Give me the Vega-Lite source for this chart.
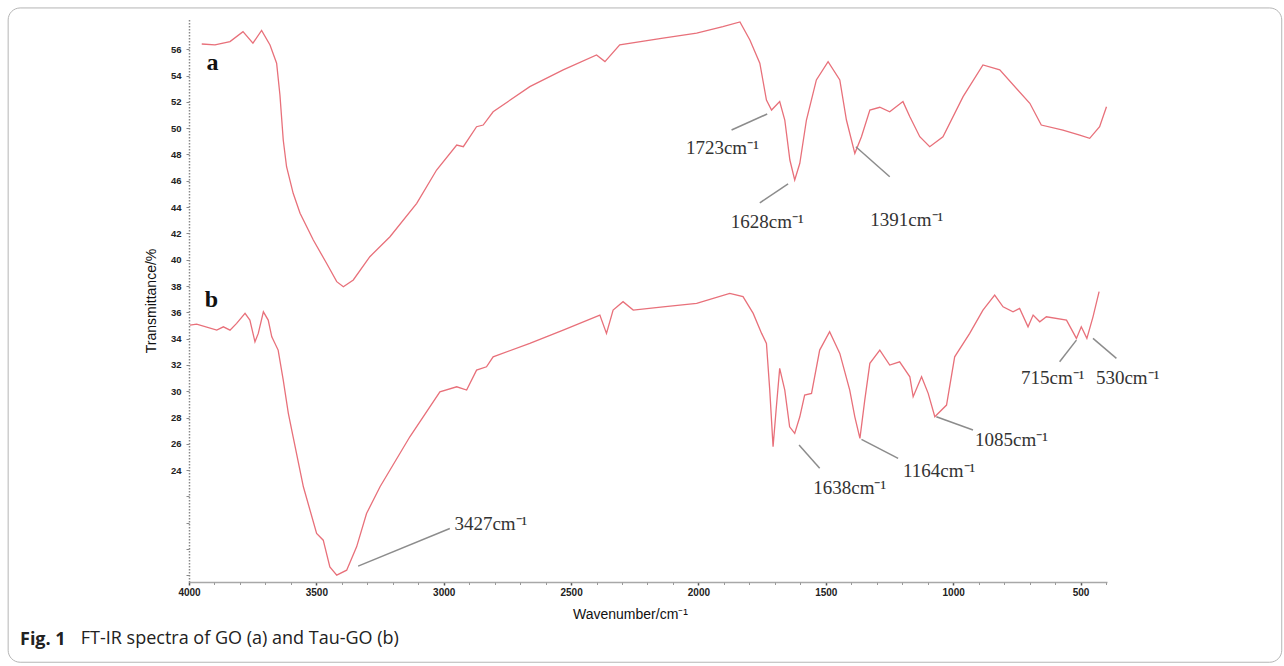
{
  "$schema": "https://vega.github.io/schema/vega-lite/v6.json",
  "width": 918,
  "height": 563,
  "autosize": {"type": "none"},
  "padding": {"left": 189, "top": 19, "right": 177, "bottom": 84},
  "background": "white",
  "config": {"view": {"stroke": null}, "font": "Liberation Sans"},
  "title": {
    "text": "Fig. 1",
    "subtitle": "\u200b\u00a0\u00a0\u00a0\u00a0\u00a0\u00a0\u00a0\u00a0\u00a0\u00a0\u00a0\u00a0\u00a0FT-IR spectra of GO (a) and Tau-GO (b)",
    "orient": "bottom",
    "anchor": "start",
    "frame": "group",
    "baseline": "top",
    "dx": -169,
    "offset": -32,
    "font": "Open Sans",
    "fontSize": 18,
    "fontWeight": "bold",
    "color": "#222222",
    "subtitleFont": "Open Sans",
    "subtitleFontSize": 18,
    "subtitleFontWeight": "normal",
    "subtitleColor": "#222222",
    "subtitlePadding": -19
  },
  "resolve": {"axis": {"x": "independent", "y": "independent"}},
  "datasets": {
    "spectra": [
      {"s": "a", "wn": 3950, "t": 56.40}, {"s": "a", "wn": 3898, "t": 56.33}, {"s": "a", "wn": 3839, "t": 56.58},
      {"s": "a", "wn": 3788, "t": 57.34}, {"s": "a", "wn": 3749, "t": 56.46}, {"s": "a", "wn": 3715, "t": 57.43},
      {"s": "a", "wn": 3682, "t": 56.33}, {"s": "a", "wn": 3656, "t": 54.94}, {"s": "a", "wn": 3643, "t": 52.52},
      {"s": "a", "wn": 3630, "t": 49.10}, {"s": "a", "wn": 3617, "t": 47.07}, {"s": "a", "wn": 3591, "t": 45.05},
      {"s": "a", "wn": 3564, "t": 43.53}, {"s": "a", "wn": 3512, "t": 41.50}, {"s": "a", "wn": 3460, "t": 39.73},
      {"s": "a", "wn": 3420, "t": 38.33}, {"s": "a", "wn": 3394, "t": 37.95}, {"s": "a", "wn": 3355, "t": 38.46},
      {"s": "a", "wn": 3290, "t": 40.23}, {"s": "a", "wn": 3211, "t": 41.75}, {"s": "a", "wn": 3106, "t": 44.29},
      {"s": "a", "wn": 3028, "t": 46.82}, {"s": "a", "wn": 2949, "t": 48.72}, {"s": "a", "wn": 2923, "t": 48.59},
      {"s": "a", "wn": 2871, "t": 50.11}, {"s": "a", "wn": 2845, "t": 50.24}, {"s": "a", "wn": 2806, "t": 51.25},
      {"s": "a", "wn": 2662, "t": 53.16}, {"s": "a", "wn": 2531, "t": 54.43}, {"s": "a", "wn": 2400, "t": 55.57},
      {"s": "a", "wn": 2367, "t": 55.06}, {"s": "a", "wn": 2309, "t": 56.33}, {"s": "a", "wn": 2139, "t": 56.84},
      {"s": "a", "wn": 2007, "t": 57.22}, {"s": "a", "wn": 1904, "t": 57.72}, {"s": "a", "wn": 1837, "t": 58.08},
      {"s": "a", "wn": 1798, "t": 56.71}, {"s": "a", "wn": 1759, "t": 54.94}, {"s": "a", "wn": 1733, "t": 52.14},
      {"s": "a", "wn": 1713, "t": 51.38}, {"s": "a", "wn": 1681, "t": 52.02}, {"s": "a", "wn": 1661, "t": 50.62},
      {"s": "a", "wn": 1641, "t": 47.58}, {"s": "a", "wn": 1622, "t": 46.06}, {"s": "a", "wn": 1602, "t": 47.33},
      {"s": "a", "wn": 1576, "t": 50.62}, {"s": "a", "wn": 1537, "t": 53.67}, {"s": "a", "wn": 1491, "t": 55.06},
      {"s": "a", "wn": 1445, "t": 53.67}, {"s": "a", "wn": 1419, "t": 50.62}, {"s": "a", "wn": 1386, "t": 48.09},
      {"s": "a", "wn": 1360, "t": 49.35}, {"s": "a", "wn": 1327, "t": 51.38}, {"s": "a", "wn": 1288, "t": 51.59},
      {"s": "a", "wn": 1249, "t": 51.25}, {"s": "a", "wn": 1197, "t": 52.02}, {"s": "a", "wn": 1170, "t": 50.87},
      {"s": "a", "wn": 1131, "t": 49.35}, {"s": "a", "wn": 1092, "t": 48.59}, {"s": "a", "wn": 1040, "t": 49.35},
      {"s": "a", "wn": 961, "t": 52.40}, {"s": "a", "wn": 883, "t": 54.81}, {"s": "a", "wn": 817, "t": 54.43},
      {"s": "a", "wn": 699, "t": 51.89}, {"s": "a", "wn": 654, "t": 50.24}, {"s": "a", "wn": 569, "t": 49.86},
      {"s": "a", "wn": 503, "t": 49.48}, {"s": "a", "wn": 464, "t": 49.23}, {"s": "a", "wn": 425, "t": 50.11},
      {"s": "a", "wn": 398, "t": 51.63},
      {"s": "b", "wn": 3996, "t": 35.03}, {"s": "b", "wn": 3970, "t": 35.11}, {"s": "b", "wn": 3891, "t": 34.65},
      {"s": "b", "wn": 3865, "t": 34.90}, {"s": "b", "wn": 3839, "t": 34.65}, {"s": "b", "wn": 3813, "t": 35.16},
      {"s": "b", "wn": 3780, "t": 35.92}, {"s": "b", "wn": 3761, "t": 35.41}, {"s": "b", "wn": 3741, "t": 33.76},
      {"s": "b", "wn": 3728, "t": 34.40}, {"s": "b", "wn": 3708, "t": 36.04}, {"s": "b", "wn": 3689, "t": 35.41},
      {"s": "b", "wn": 3675, "t": 34.14}, {"s": "b", "wn": 3650, "t": 33.13}, {"s": "b", "wn": 3630, "t": 30.85},
      {"s": "b", "wn": 3610, "t": 28.32}, {"s": "b", "wn": 3591, "t": 26.52}, {"s": "b", "wn": 3551, "t": 22.74},
      {"s": "b", "wn": 3499, "t": 19.19}, {"s": "b", "wn": 3473, "t": 18.68}, {"s": "b", "wn": 3447, "t": 16.65},
      {"s": "b", "wn": 3420, "t": 16.02}, {"s": "b", "wn": 3381, "t": 16.40}, {"s": "b", "wn": 3342, "t": 18.17},
      {"s": "b", "wn": 3303, "t": 20.71}, {"s": "b", "wn": 3250, "t": 22.74}, {"s": "b", "wn": 3133, "t": 26.54},
      {"s": "b", "wn": 3015, "t": 29.96}, {"s": "b", "wn": 2949, "t": 30.34}, {"s": "b", "wn": 2910, "t": 30.09},
      {"s": "b", "wn": 2871, "t": 31.61}, {"s": "b", "wn": 2832, "t": 31.86}, {"s": "b", "wn": 2806, "t": 32.62},
      {"s": "b", "wn": 2662, "t": 33.64}, {"s": "b", "wn": 2531, "t": 34.65}, {"s": "b", "wn": 2387, "t": 35.79},
      {"s": "b", "wn": 2361, "t": 34.40}, {"s": "b", "wn": 2335, "t": 36.17}, {"s": "b", "wn": 2296, "t": 36.81},
      {"s": "b", "wn": 2256, "t": 36.17}, {"s": "b", "wn": 2139, "t": 36.42}, {"s": "b", "wn": 2007, "t": 36.68},
      {"s": "b", "wn": 1877, "t": 37.44}, {"s": "b", "wn": 1825, "t": 37.19}, {"s": "b", "wn": 1785, "t": 35.92},
      {"s": "b", "wn": 1752, "t": 34.40}, {"s": "b", "wn": 1733, "t": 33.64}, {"s": "b", "wn": 1720, "t": 30.09},
      {"s": "b", "wn": 1707, "t": 25.78}, {"s": "b", "wn": 1694, "t": 28.82}, {"s": "b", "wn": 1681, "t": 31.74},
      {"s": "b", "wn": 1661, "t": 30.09}, {"s": "b", "wn": 1642, "t": 27.30}, {"s": "b", "wn": 1622, "t": 26.80},
      {"s": "b", "wn": 1602, "t": 28.06}, {"s": "b", "wn": 1583, "t": 29.71}, {"s": "b", "wn": 1556, "t": 29.84},
      {"s": "b", "wn": 1524, "t": 33.13}, {"s": "b", "wn": 1485, "t": 34.52}, {"s": "b", "wn": 1445, "t": 32.88},
      {"s": "b", "wn": 1406, "t": 30.09}, {"s": "b", "wn": 1386, "t": 28.06}, {"s": "b", "wn": 1366, "t": 26.42},
      {"s": "b", "wn": 1347, "t": 29.33}, {"s": "b", "wn": 1327, "t": 32.12}, {"s": "b", "wn": 1288, "t": 33.13},
      {"s": "b", "wn": 1249, "t": 31.99}, {"s": "b", "wn": 1210, "t": 32.24}, {"s": "b", "wn": 1170, "t": 31.10},
      {"s": "b", "wn": 1157, "t": 29.58}, {"s": "b", "wn": 1124, "t": 31.10}, {"s": "b", "wn": 1098, "t": 29.84},
      {"s": "b", "wn": 1072, "t": 28.06}, {"s": "b", "wn": 1026, "t": 28.95}, {"s": "b", "wn": 994, "t": 32.62},
      {"s": "b", "wn": 935, "t": 34.40}, {"s": "b", "wn": 883, "t": 36.17}, {"s": "b", "wn": 837, "t": 37.31},
      {"s": "b", "wn": 804, "t": 36.42}, {"s": "b", "wn": 765, "t": 36.04}, {"s": "b", "wn": 739, "t": 36.30},
      {"s": "b", "wn": 706, "t": 34.90}, {"s": "b", "wn": 686, "t": 35.79}, {"s": "b", "wn": 660, "t": 35.28},
      {"s": "b", "wn": 634, "t": 35.66}, {"s": "b", "wn": 555, "t": 35.41}, {"s": "b", "wn": 516, "t": 34.02},
      {"s": "b", "wn": 497, "t": 34.90}, {"s": "b", "wn": 475, "t": 34.02}, {"s": "b", "wn": 451, "t": 35.66},
      {"s": "b", "wn": 427, "t": 37.57}
    ],
    "labels": [
      {"label": "1723cm⁻¹", "wn": 1906, "t": 48.47},
      {"label": "1628cm⁻¹", "wn": 1730, "t": 42.87},
      {"label": "1391cm⁻¹", "wn": 1182, "t": 43.02},
      {"label": "3427cm⁻¹", "wn": 2815, "t": 19.90},
      {"label": "1638cm⁻¹", "wn": 1406, "t": 22.64},
      {"label": "1164cm⁻¹", "wn": 1055, "t": 23.93},
      {"label": "1085cm⁻¹", "wn": 771, "t": 26.29},
      {"label": "715cm⁻¹", "wn": 609, "t": 31.04},
      {"label": "530cm⁻¹", "wn": 315, "t": 31.04}
    ],
    "leaders": [
      {"peak": "1723", "wn1": 1870, "t1": 49.86, "wn2": 1730, "t2": 51.08},
      {"peak": "1628", "wn1": 1759, "t1": 44.33, "wn2": 1648, "t2": 45.76},
      {"peak": "1391", "wn1": 1382, "t1": 48.59, "wn2": 1249, "t2": 46.31},
      {"peak": "3427", "wn1": 3336, "t1": 16.71, "wn2": 2976, "t2": 19.57},
      {"peak": "1638", "wn1": 1605, "t1": 25.91, "wn2": 1524, "t2": 24.14},
      {"peak": "1164", "wn1": 1360, "t1": 26.34, "wn2": 1216, "t2": 24.90},
      {"peak": "1085", "wn1": 1066, "t1": 28.06, "wn2": 922, "t2": 27.05},
      {"peak": "715", "wn1": 516, "t1": 33.89, "wn2": 582, "t2": 32.24},
      {"peak": "530", "wn1": 451, "t1": 34.02, "wn2": 359, "t2": 32.50}
    ],
    "panels": [
      {"label": "a", "wn": 3908, "t": 54.43},
      {"label": "b", "wn": 3912, "t": 36.38}
    ]
  },
  "layer": [
    {
      "data": {"values": [{}]},
      "mark": {"type": "rect", "fill": null, "stroke": "#b5b5b5", "strokeWidth": 1, "cornerRadius": 12, "clip": false},
      "encoding": {
        "x": {"datum": 4710, "type": "quantitative", "axis": null},
        "x2": {"datum": -290},
        "y": {"datum": 59.14, "type": "quantitative", "axis": null},
        "y2": {"datum": 9.4}
      }
    },
    {
      "data": {"name": "spectra"},
      "mark": {"type": "line", "color": "#e8707a", "strokeWidth": 1.3, "clip": false},
      "encoding": {
        "x": {
          "field": "wn", "type": "quantitative",
          "scale": {"domain": [396, 4000], "reverse": true, "nice": false, "zero": false},
          "axis": {
            "orient": "bottom",
            "title": "Wavenumber/cm⁻¹",
            "titleFont": "Liberation Sans", "titleFontSize": 14, "titleFontWeight": "normal", "titleColor": "#111111",
            "titlePadding": 10, "titleX": 441,
            "values": [500, 1000, 1500, 2000, 2500, 3000, 3500, 4000],
            "format": "d",
            "labelFont": "Liberation Sans", "labelFontSize": 10, "labelFontWeight": "bold", "labelColor": "#222222",
            "labelPadding": 2, "labelFlush": false, "labelOverlap": false,
            "domainColor": "#a8a8a8", "domainWidth": 1.5,
            "tickColor": "#555555", "tickSize": 3, "tickWidth": 1.5,
            "grid": false
          }
        },
        "y": {
          "field": "t", "type": "quantitative",
          "scale": {"domain": [15.5, 58.3], "nice": false, "zero": false},
          "axis": {
            "orient": "left",
            "title": "Transmittance/%",
            "titleFont": "Liberation Sans", "titleFontSize": 14, "titleFontWeight": "normal", "titleColor": "#111111",
            "titlePadding": 12,
            "values": [24, 26, 28, 30, 32, 34, 36, 38, 40, 42, 44, 46, 48, 50, 52, 54, 56],
            "labelFont": "Liberation Sans", "labelFontSize": 9.5, "labelFontWeight": "bold", "labelColor": "#222222",
            "labelPadding": 5, "labelOverlap": false,
            "domainColor": "#8a8a8a", "domainWidth": 1.5, "domainDash": [1.5, 1.5],
            "tickColor": "#8a8a8a", "tickSize": 3,
            "grid": false
          }
        },
        "detail": {"field": "s"}
      }
    },
    {
      "data": {"name": "leaders"},
      "mark": {"type": "rule", "color": "#8c8c8c", "strokeWidth": 1.5, "clip": false},
      "encoding": {
        "x": {
          "field": "wn1", "type": "quantitative",
          "axis": {
            "orient": "bottom", "title": null, "labels": false, "domain": false, "grid": false,
            "values": [400, 600, 700, 800, 900, 1100, 1200, 1300, 1400, 1600, 1700, 1800, 1900, 2100, 2200, 2300, 2400, 2600, 2700, 2800, 2900, 3100, 3200, 3300, 3400, 3600, 3700, 3800, 3900],
            "tickColor": "#9a9a9a", "tickSize": 2.5, "tickWidth": 1
          }
        },
        "y": {
          "field": "t1", "type": "quantitative",
          "axis": {
            "orient": "left", "title": null, "labels": false, "domain": false, "grid": false,
            "values": [16, 18, 20, 22],
            "tickColor": "#8a8a8a", "tickSize": 3
          }
        },
        "x2": {"field": "wn2"},
        "y2": {"field": "t2"}
      }
    },
    {
      "data": {"name": "labels"},
      "mark": {"type": "text", "font": "Liberation Serif", "fontSize": 19, "color": "#333333", "align": "center", "baseline": "middle", "clip": false},
      "encoding": {
        "x": {"field": "wn", "type": "quantitative", "axis": null},
        "y": {"field": "t", "type": "quantitative", "axis": null},
        "text": {"field": "label"}
      }
    },
    {
      "data": {"name": "panels"},
      "mark": {"type": "text", "font": "Liberation Serif", "fontSize": 24, "fontWeight": "bold", "color": "#111111", "align": "center", "baseline": "alphabetic"},
      "encoding": {
        "x": {"field": "wn", "type": "quantitative", "axis": null},
        "y": {"field": "t", "type": "quantitative", "axis": null},
        "text": {"field": "label"}
      }
    }
  ]
}
